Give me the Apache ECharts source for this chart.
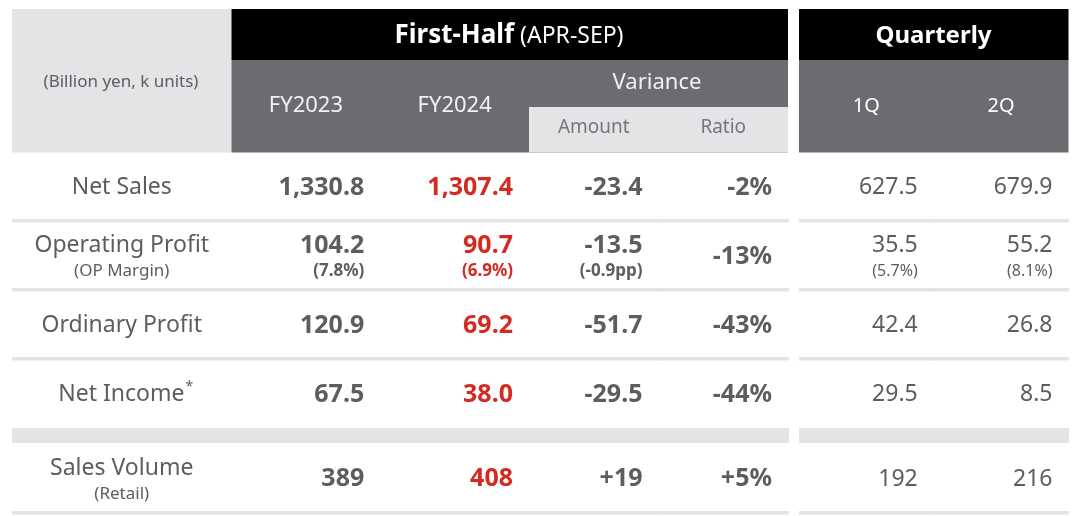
<!DOCTYPE html>
<html><head><meta charset="utf-8">
<script src="https://cdn.jsdelivr.net/npm/echarts@6/dist/echarts.min.js"></script>
<style>html,body{margin:0;padding:0;background:#fff}#c{width:1080px;height:516px}</style>
</head><body><div id="c"></div><script>
// ---- data ----
const rowLabels = ['Net Sales', 'Operating Profit', 'Ordinary Profit', 'Net Income', 'Sales Volume'];
const rowNotes = ['', '(OP Margin)', '', '', '(Retail)'];
const footnoteMark = ['', '', '', '*', ''];
const rowDecimals = [1, 1, 1, 1, 0];
const colFirstHalf = ['FY2023', 'FY2024'];
const colVariance = ['Amount', 'Ratio'];
const colQuarter = ['1Q', '2Q'];
const fy2023 = [1330.8, 104.2, 120.9, 67.5, 389];
const fy2024 = [1307.4, 90.7, 69.2, 38.0, 408];
const varianceAmount = [-23.4, -13.5, -51.7, -29.5, 19];
const varianceRatio = [-2, -13, -43, -44, 5];
const q1 = [627.5, 35.5, 42.4, 29.5, 192];
const q2 = [679.9, 55.2, 26.8, 8.5, 216];
const opMarginFY2023 = 7.8, opMarginFY2024 = 6.9, opMarginQ1 = 5.7, opMarginQ2 = 8.1;
const opMarginChangePP = -0.9;

// ---- styling ----
const FONT = '"Noto Sans", "Open Sans", sans-serif';
const GRAY = '#5c5d60', RED = '#d42a20', LINE = '#e4e4e6', DARK = '#6b6c70';

function fmt(v, d) { return v.toLocaleString('en-US', {minimumFractionDigits: d, maximumFractionDigits: d}); }
function signed(s, v) { return (v > 0 ? '+' : '') + s; }
const OP_ROW = 1;

const specFY23 = {vals: r => fmt(fy2023[r], rowDecimals[r]), sub: r => r === OP_ROW ? '(' + opMarginFY2023.toFixed(1) + '%)' : '', color: GRAY, weight: 'bold', size: 25, subSize: 17};
const specFY24 = {vals: r => fmt(fy2024[r], rowDecimals[r]), sub: r => r === OP_ROW ? '(' + opMarginFY2024.toFixed(1) + '%)' : '', color: RED, weight: 'bold', size: 25, subSize: 17};
const specAmt = {vals: r => signed(fmt(varianceAmount[r], rowDecimals[r]), varianceAmount[r]), sub: r => r === OP_ROW ? '(' + opMarginChangePP.toFixed(1) + 'pp)' : '', color: GRAY, weight: 'bold', size: 25, subSize: 17};
const specRatio = {vals: r => signed(varianceRatio[r] + '%', varianceRatio[r]), sub: r => '', color: GRAY, weight: 'bold', size: 25, subSize: 17};
const specQ1 = {vals: r => fmt(q1[r], rowDecimals[r]), sub: r => r === OP_ROW ? '(' + opMarginQ1.toFixed(1) + '%)' : '', color: GRAY, weight: 'normal', size: 23, subSize: 16};
const specQ2 = {vals: r => fmt(q2[r], rowDecimals[r]), sub: r => r === OP_ROW ? '(' + opMarginQ2.toFixed(1) + '%)' : '', color: GRAY, weight: 'normal', size: 23, subSize: 16};

const sections = [
  {left: 12, width: 219.5, cols: ['label'], specs: null},
  {left: 231.5, width: 297.5, cols: colFirstHalf, specs: [specFY23, specFY24], lab: {margin: 46, color: '#f2f2f2', fontSize: 22}},
  {left: 529, width: 259, cols: colVariance, specs: [specAmt, specRatio], lab: {margin: 24, color: '#75767a', fontSize: 19}},
  {left: 799, width: 269.5, cols: colQuarter, specs: [specQ1, specQ2], lab: {margin: 46, color: '#ffffff', fontSize: 20}}
];
const parts = [{top: 152, height: 276, rows: [0, 1, 2, 3]}, {top: 443, height: 70, rows: [4]}];

const grids = [], xAxes = [], yAxes = [], series = [];
sections.forEach((sec, si) => {
  parts.forEach((part, pi) => {
    const gi = grids.length;
    grids.push({left: sec.left, top: part.top, width: sec.width, height: part.height, containLabel: false});
    const showLab = pi === 0 && !!sec.lab;
    xAxes.push({type: 'category', gridIndex: gi, data: sec.cols, position: 'top', show: showLab,
      axisLine: {show: false}, axisTick: {show: false}, splitLine: {show: false},
      axisLabel: showLab ? {interval: 0, margin: sec.lab.margin, color: sec.lab.color, fontSize: sec.lab.fontSize,
        fontFamily: FONT, verticalAlign: 'middle'} : {show: false}});
    yAxes.push({type: 'category', gridIndex: gi, inverse: true, show: false, data: part.rows.map(r => rowLabels[r])});
    const items = [], data = [];
    sec.cols.forEach((c, ci) => part.rows.forEach((r, ri) => { items.push({ci, r}); data.push([ci, ri]); }));
    series.push({
      type: 'custom', xAxisIndex: gi, yAxisIndex: gi, data, silent: true,
      renderItem: function (params, api) {
        const it = items[params.dataIndex];
        const c = api.coord([api.value(0), api.value(1)]);
        const s = api.size([1, 1]);
        const x0 = Math.floor(c[0] - s[0] / 2), w = Math.ceil(s[0]) + 1;
        const bottom = c[1] + s[1] / 2, cy = c[1];
        const ch = [];
        if (it.r === 3) ch.push({type: 'rect', shape: {x: x0, y: bottom, width: w, height: 15}, style: {fill: LINE}});
        else ch.push({type: 'rect', shape: {x: x0, y: bottom - 2, width: w, height: 3.5}, style: {fill: LINE}});
        let main, sub, x, align, color, weight, size, subSize;
        if (!sec.specs) {
          main = rowLabels[it.r]; sub = rowNotes[it.r]; x = c[0]; align = 'center';
          color = GRAY; weight = 'normal'; size = 23; subSize = 17;
        } else {
          const sp = sec.specs[it.ci];
          main = sp.vals(it.r); sub = sp.sub(it.r); x = c[0] + s[0] / 2 - 16; align = 'right';
          color = sp.color; weight = sp.weight; size = sp.size; subSize = sp.subSize;
        }
        const my = sub ? cy - 10 : cy + 1;
        const mark = !sec.specs ? footnoteMark[it.r] : '';
        if (mark) {
          ch.push({type: 'text', style: {text: '{m|' + main + '}{s|' + mark + '}', x: x + 4, y: my, align, verticalAlign: 'middle',
            rich: {m: {fontSize: size, fontFamily: FONT, fill: color, fontWeight: weight, lineHeight: 28},
                   s: {fontSize: 14, fontFamily: FONT, fill: color, verticalAlign: 'top', lineHeight: 28, padding: [0, 0, 10, 1]}}}});
        } else {
          ch.push({type: 'text', style: {text: main, x, y: my, align, verticalAlign: 'middle', fill: color,
            fontSize: size, fontWeight: weight, fontFamily: FONT}});
        }
        if (sub) ch.push({type: 'text', style: {text: sub, x, y: cy + 16, align, verticalAlign: 'middle', fill: color,
            fontSize: subSize, fontWeight: weight, fontFamily: FONT}});
        return {type: 'group', children: ch};
      }
    });
  });
});

function rect(x, y, w, h, fill) { return {type: 'rect', z: -5, shape: {x, y, width: w, height: h}, style: {fill}}; }
function txt(x, y, style) { return {type: 'text', z: 10, style: Object.assign({x, y, align: 'center', verticalAlign: 'middle', textAlign: 'center', textVerticalAlign: 'middle', fontFamily: FONT}, style)}; }

const graphic = [
  rect(12, 9, 219.5, 143.5, LINE),
  rect(231.5, 9, 556.5, 51, '#000000'),
  rect(231.5, 60, 556.5, 92.5, DARK),
  rect(529, 107, 259, 45.5, LINE),
  rect(799, 9, 269.5, 51, '#000000'),
  rect(799, 60, 269.5, 92.5, DARK),
  txt(121, 82, {text: '(Billion yen, k units)', fill: GRAY, fontSize: 17}),
  txt(509, 36, {text: '{b|First-Half}{n| (APR-SEP)}', rich: {
    b: {fontSize: 26, fontWeight: 'bold', fill: '#ffffff', fontFamily: FONT},
    n: {fontSize: 23, fill: '#ffffff', fontFamily: FONT}}}),
  txt(657, 83, {text: 'Variance', fill: '#f2f2f2', fontSize: 22}),
  txt(933.5, 36, {text: 'Quarterly', fill: '#ffffff', fontSize: 24, fontWeight: 'bold'})
];

const chart = echarts.init(document.getElementById('c'), null, {renderer: 'canvas'});
chart.setOption({
  backgroundColor: '#ffffff',
  animation: false,
  grid: grids, xAxis: xAxes, yAxis: yAxes, series,
  graphic: {elements: graphic}
});
</script></body></html>
